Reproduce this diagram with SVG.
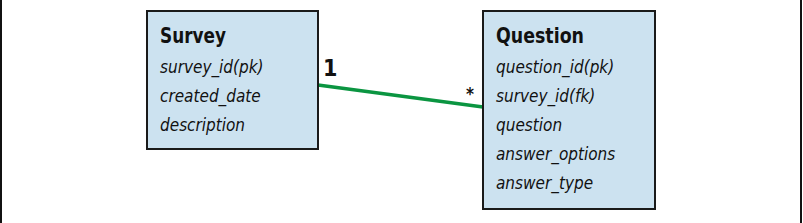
<svg xmlns="http://www.w3.org/2000/svg" width="803" height="223" viewBox="0 0 803 223">
<style>
.box{fill:#cce2f0;stroke:#1a1a1a;stroke-width:2}
.title{font-family:"DejaVu Sans Condensed","DejaVu Sans",sans-serif;font-weight:bold;font-size:21px;fill:#111}
.attr{font-family:"DejaVu Sans Condensed","DejaVu Sans",sans-serif;font-style:italic;font-size:17px;fill:#111}
.lbl{font-family:"DejaVu Sans Condensed","DejaVu Sans",sans-serif;font-weight:bold;fill:#111}
.edge{stroke:#0b9541;stroke-width:3.5;fill:none}
.frame{stroke:#111;stroke-width:2}
</style>
<line class="frame" x1="1" y1="0" x2="1" y2="223"/>
<line class="frame" x1="801" y1="0" x2="801" y2="223"/>
<g id="connectors">
<path class="edge" d="M318,85 L483,107"/>
<text class="lbl" x="323" y="76" font-size="23">1</text>
<text class="lbl" x="466" y="100" font-size="17">*</text>
</g>
<g id="survey">
<rect class="box" x="147" y="11" width="171" height="138"/>
<text class="title" x="160" y="43" textLength="66" lengthAdjust="spacingAndGlyphs">Survey</text>
<text class="attr" x="160" y="73">survey_id(pk)</text>
<text class="attr" x="160" y="102">created_date</text>
<text class="attr" x="160" y="131">description</text>
</g>
<g id="question">
<rect class="box" x="483" y="11" width="172" height="198"/>
<text class="title" x="496" y="43" textLength="88" lengthAdjust="spacingAndGlyphs">Question</text>
<text class="attr" x="496" y="73">question_id(pk)</text>
<text class="attr" x="496" y="102">survey_id(fk)</text>
<text class="attr" x="496" y="131">question</text>
<text class="attr" x="496" y="160">answer_options</text>
<text class="attr" x="496" y="189">answer_type</text>
</g>
</svg>
